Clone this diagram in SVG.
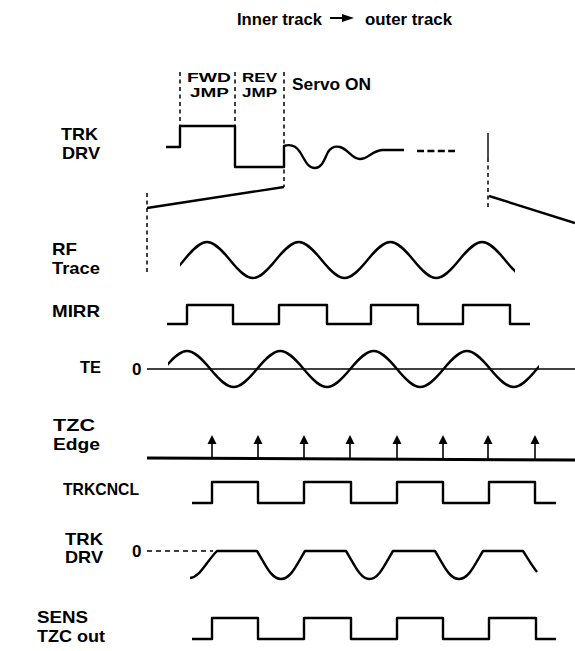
<svg xmlns="http://www.w3.org/2000/svg" width="575" height="651" viewBox="0 0 575 651">
<style>
text{font-family:"Liberation Sans",Arial,sans-serif;font-weight:bold;font-size:17px;fill:#000}
.sm{font-size:13.5px}
.w{fill:none;stroke:#000;stroke-width:2.4;stroke-linejoin:round;stroke-linecap:butt}
.thin{fill:none;stroke:#000;stroke-width:1.4}
.dash{fill:none;stroke:#000;stroke-width:1.5;stroke-dasharray:4,3.5}
</style>
<defs>
<clipPath id="cRF"><rect x="180" y="220" width="335" height="80"/></clipPath>
<clipPath id="cTE"><rect x="168" y="330" width="371" height="80"/></clipPath>
<marker id="ah" viewBox="0 0 10 10" refX="0" refY="5" markerWidth="9" markerHeight="12" markerUnits="userSpaceOnUse" orient="auto"><path d="M0,0 L10,5 L0,10 z" fill="#000"/></marker>
</defs>

<g id="title">
<text x="237" y="25" textLength="85" lengthAdjust="spacingAndGlyphs">Inner track</text>
<line x1="330" y1="18" x2="344" y2="18" stroke="#000" stroke-width="2"/>
<polygon points="342,14 354,18 342,22" fill="#000"/>
<text x="365" y="25" textLength="87" lengthAdjust="spacingAndGlyphs">outer track</text>
</g>

<g id="phase-labels">
<text class="sm" x="187" y="82" textLength="44" lengthAdjust="spacingAndGlyphs">FWD</text>
<text class="sm" x="190" y="97" textLength="39" lengthAdjust="spacingAndGlyphs">JMP</text>
<text class="sm" x="242" y="82" textLength="35" lengthAdjust="spacingAndGlyphs">REV</text>
<text class="sm" x="242" y="97" textLength="35" lengthAdjust="spacingAndGlyphs">JMP</text>
<text x="292" y="90" textLength="79" lengthAdjust="spacingAndGlyphs">Servo ON</text>
</g>

<g id="trk-drv-top">
<text x="61" y="139.5" textLength="37" lengthAdjust="spacingAndGlyphs">TRK</text>
<text x="62" y="159" textLength="38" lengthAdjust="spacingAndGlyphs">DRV</text>
<path class="w" d="M166,147 H180 V126 H235 V167 H284 V146 C290,144 296,146 300,152 C306,162 308,168 315,168 C322,168 324,160 328,152 C332,146 336,146 340,147 C348,149 352,159 360,159 C368,159 372,151 382,150 L404,150"/>
<path class="w" d="M417,151 H455" stroke-dasharray="7,3.4"/>
</g>

<g id="connectors">
<path class="dash" d="M180,72 V126 M235,72 V126 M284,72 V187"/>
<path class="thin" d="M488,133 V158"/>
<path class="dash" d="M488,158 V208"/>
<path class="dash" d="M147,193 V275"/>
<path class="w" d="M147,208 L284,187"/>
<path class="w" d="M489,196 L575,223"/>
</g>

<g id="rf-trace">
<text x="52" y="255" textLength="25" lengthAdjust="spacingAndGlyphs">RF</text>
<text x="52" y="274" textLength="48" lengthAdjust="spacingAndGlyphs">Trace</text>
<path class="w" clip-path="url(#cRF)" d="M138.25,260 C157.71,284 164.64,284 184.1,260 S210.49,236 229.95,260 S256.34,284 275.8,260 S302.19,236 321.65,260 S348.04,284 367.5,260 S393.89,236 413.35,260 S439.74,284 459.2,260 S485.59,236 505.05,260 S531.44,284 550.9,260"/>
</g>

<g id="mirr">
<text x="52" y="317" textLength="48" lengthAdjust="spacingAndGlyphs">MIRR</text>
<path class="w" d="M167,324 H187 V305 H233 V324 H279 V305 H327 V324 H371 V305 H418 V324 H463 V305 H510 V324 H530"/>
</g>

<g id="te">
<text x="80" y="373" textLength="21" lengthAdjust="spacingAndGlyphs">TE</text>
<text x="132" y="375">0</text>
<path class="thin" d="M147,369 H575"/>
<path class="w" clip-path="url(#cTE)" d="M163.7,369 C183.5,345 190.55,345 210.35,369 S237.2,393 257,369 S283.85,345 303.65,369 S330.5,393 350.3,369 S377.15,345 396.95,369 S423.8,393 443.6,369 S470.45,345 490.25,369 S517.1,393 536.9,369 S563.75,345 583.55,369"/>
</g>

<g id="tzc-edge">
<text x="53" y="431" textLength="42" lengthAdjust="spacingAndGlyphs">TZC</text>
<text x="53" y="450" textLength="47" lengthAdjust="spacingAndGlyphs">Edge</text>
<path d="M147,458 L575,460" stroke="#000" stroke-width="3" fill="none"/>
<g stroke="#000" stroke-width="1.6">
<line x1="212" y1="458" x2="212" y2="444" marker-end="url(#ah)"/>
<line x1="258" y1="458" x2="258" y2="444" marker-end="url(#ah)"/>
<line x1="304" y1="458" x2="304" y2="444" marker-end="url(#ah)"/>
<line x1="350" y1="459" x2="350" y2="444" marker-end="url(#ah)"/>
<line x1="397" y1="459" x2="397" y2="444" marker-end="url(#ah)"/>
<line x1="443" y1="459" x2="443" y2="444" marker-end="url(#ah)"/>
<line x1="488" y1="459" x2="488" y2="444" marker-end="url(#ah)"/>
<line x1="535" y1="460" x2="535" y2="444" marker-end="url(#ah)"/>
</g>
</g>

<g id="trkcncl">
<text x="63" y="495" textLength="76" lengthAdjust="spacingAndGlyphs">TRKCNCL</text>
<path class="w" d="M192,503 H212 V482 H258 V503 H304 V482 H351 V503 H397 V482 H443 V503 H489 V482 H535 V503 H556"/>
</g>

<g id="trk-drv-bottom">
<text x="65" y="545" textLength="38" lengthAdjust="spacingAndGlyphs">TRK</text>
<text x="65" y="563" textLength="38" lengthAdjust="spacingAndGlyphs">DRV</text>
<text x="132" y="557">0</text>
<path class="thin" d="M147,551 H213" stroke-dasharray="5,4"/>
<path class="w" d="M190,578 C200,577 206,562 217,551 H257 C265,564 271,579 281,579 C291,579 297,564 305,551 H346 C354,564 360,579 369.5,579 C379,579 385,564 393,551 H435 C443,564 449,579 459,579 C469,579 475,564 483,551 H523 C527,557 532,566 537,572"/>
</g>

<g id="sens-tzc-out">
<text x="37" y="623" textLength="51" lengthAdjust="spacingAndGlyphs">SENS</text>
<text x="37" y="642" textLength="68" lengthAdjust="spacingAndGlyphs">TZC out</text>
<path class="w" d="M192,639 H212 V618 H258 V639 H304 V618 H351 V639 H397 V618 H443 V639 H489 V618 H536 V639 H556"/>
</g>
</svg>
